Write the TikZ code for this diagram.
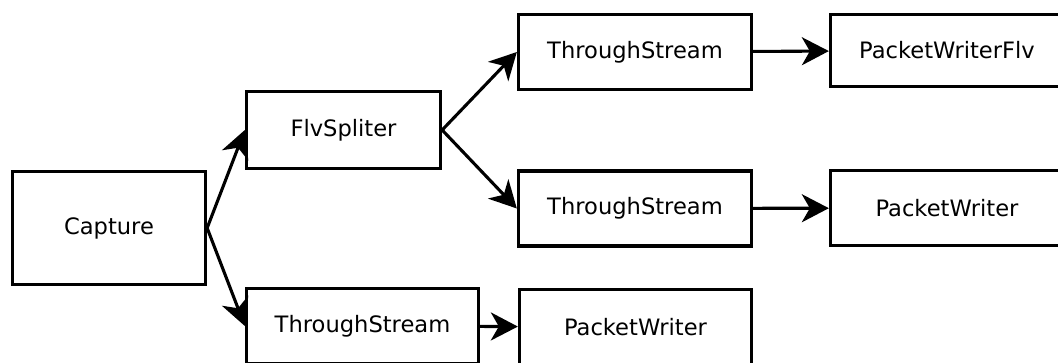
\documentclass[tikz,border=0pt]{standalone}
\usepackage{fontspec}
\setmainfont{DejaVu Sans}
\usetikzlibrary{arrows.meta}
\tikzset{
  box/.style 2 args={draw=black, line width=3.3pt, fill=white, rectangle,
    minimum width=#1pt, minimum height=#2pt, inner sep=0pt,
    font=\fontsize{22.6}{27}\selectfont},
  flow/.style={line width=3.1pt, -{Stealth[length=27pt, width=28pt, inset=8pt]}}
}
\begin{document}
\begin{tikzpicture}[x=1pt, y=-1pt]
  \useasboundingbox (0,0) rectangle (1058,362);
  \clip (0,0) rectangle (1058,362);

  % pipeline stages
  \node[box={193}{113}] (capture) at (109,228)   {Capture};
  \node[box={194}{77}]  (split)   at (343.5,130) {FlvSpliter};
  \node[box={233}{75}]  (ts1)     at (635,52)    {ThroughStream};
  \node[box={233}{75}]  (ts2)     at (635,208.5) {ThroughStream};
  \node[box={232}{75}]  (ts3)     at (362.5,326) {ThroughStream};
  \node[box={233}{72}]  (pwflv)   at (947,50.5)  {PacketWriterFlv};
  \node[box={233}{75}]  (pw1)     at (947,208)   {PacketWriter};
  \node[box={232}{75}]  (pw2)     at (635.5,327) {PacketWriter};

  % data flow
  \draw[flow] (capture.east) -- (split.west);
  \draw[flow] (capture.east) -- (ts3.west);
  \draw[flow] (split.east) -- (ts1.west);
  \draw[flow] (split.east) -- (ts2.west);
  \draw[flow] (ts1) -- (pwflv);
  \draw[flow] (ts2) -- (pw1);
  \draw[flow] (ts3) -- (pw2);
\end{tikzpicture}
\end{document}
